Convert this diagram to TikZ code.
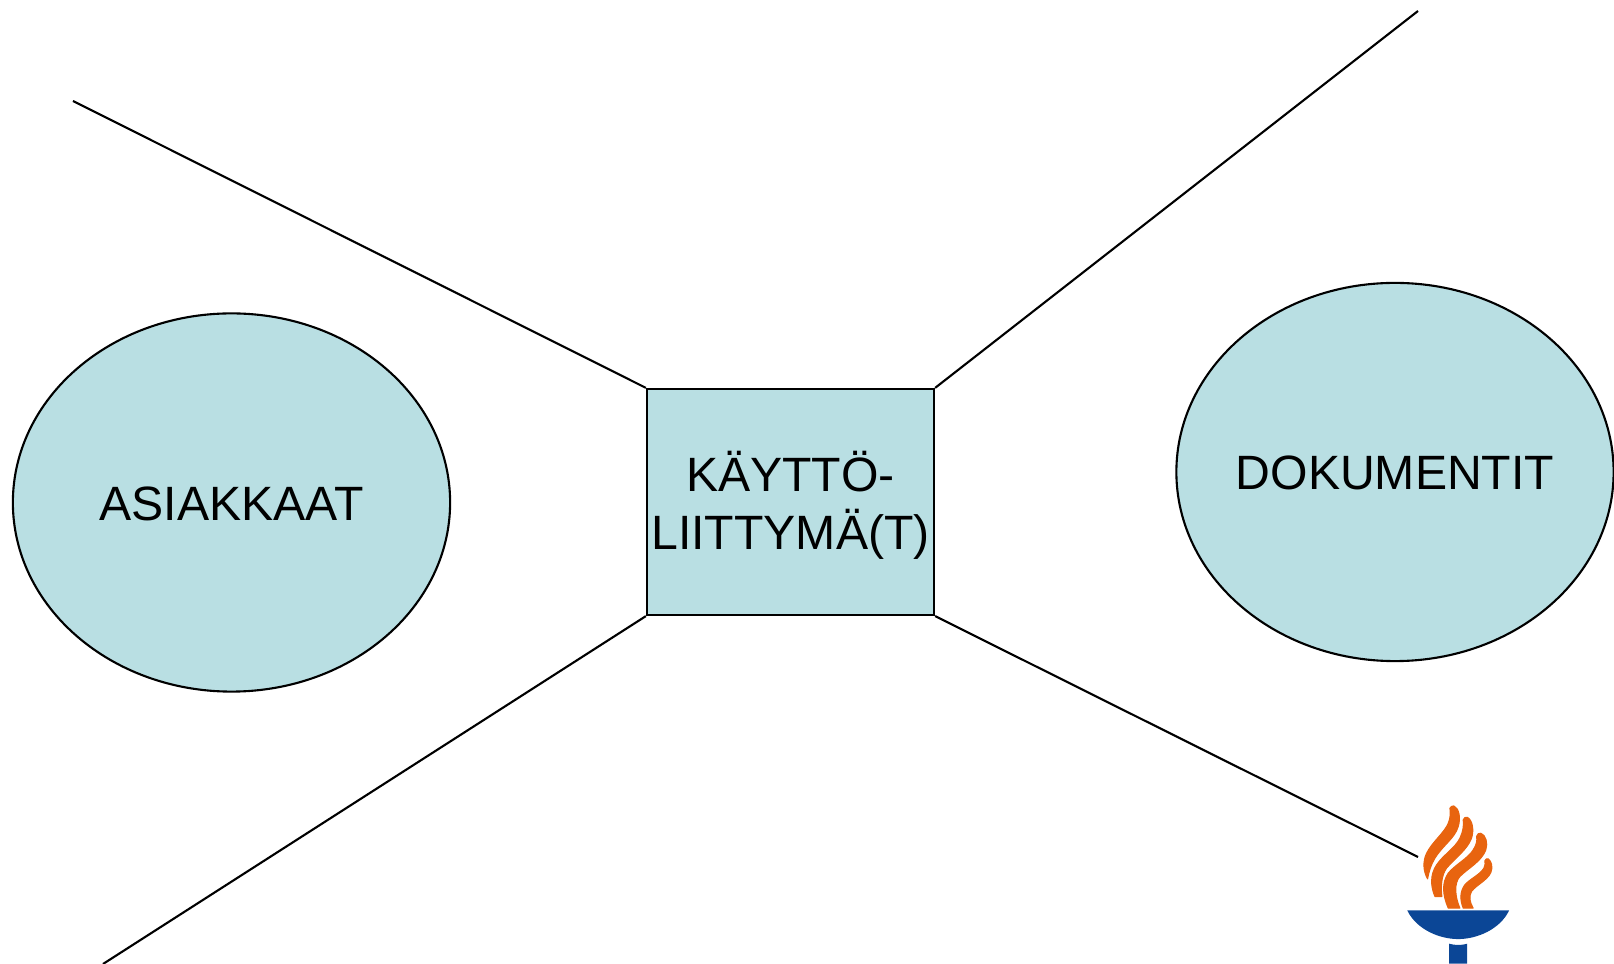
\documentclass[tikz,border=0pt]{standalone}
\usepackage{fontspec}
\setmainfont{Liberation Sans}
\usetikzlibrary{shapes.geometric}
\definecolor{paleblue}{HTML}{B9DFE3}
\definecolor{torchorange}{HTML}{E8640F}
\definecolor{torchblue}{HTML}{0B4696}

\begin{document}
\begin{tikzpicture}
[-,semithick,x=0.01cm,y=-0.01cm,%
  every node/.style={draw=black,semithick,fill=paleblue,inner sep=0pt,align=center,font=\fontsize{13.7}{16.5}\selectfont},%
  blob/.style={shape=ellipse,inner sep=-20pt,text height=10.1pt,minimum width=4.37cm,minimum height=3.78cm},%
  flame/.style={fill=torchorange,draw=torchorange,line width=0.3pt,line join=round},%
  cup/.style={fill=torchblue,draw=none}]
\useasboundingbox (0,0) rectangle (1614,964);
\node[blob] (asiakkaat) at (231.5,502.5) {ASIAKKAAT};
\node[blob] (dokumentit) at (1395,472) {DOKUMENTIT};
\node[minimum width=2.87cm,minimum height=2.26cm] (kaytto) at (790.5,502) {\rule{0pt}{13.2pt}KÄYTTÖ-\\LIITTYMÄ(T)};
\coordinate (nw) at (73,101);
\coordinate (ne) at (1418,11);
\coordinate (sw) at (103,964);
\coordinate (se) at (1418,857);
\draw (kaytto.north west) -- (nw);
\draw (kaytto.north east) -- (ne);
\draw (kaytto.south west) -- (sw);
\draw (kaytto.south east) -- (se);
% torch
\begin{scope}[shift={(1380,780)},x=0.00333cm,y=-0.00333cm]
\filldraw[flame] (222,78) .. controls (238,85) and (243,115) .. (235,140) .. controls (225,175) and (190,195) .. (165,235) .. controls (153,255) and (147,275) .. (143,297) .. controls (130,275) and (128,245) .. (140,220) .. controls (155,190) and (185,165) .. (200,140) .. controls (213,118) and (212,95) .. (210,85) .. controls (212,80) and (217,77) .. (222,78) -- cycle;
\filldraw[flame] (262,112) .. controls (278,120) and (283,150) .. (275,175) .. controls (262,210) and (225,235) .. (200,265) .. controls (185,285) and (182,320) .. (186,350) -- (165,350) .. controls (152,320) and (150,285) .. (170,255) .. controls (190,225) and (225,205) .. (240,175) .. controls (250,155) and (252,135) .. (250,120) .. controls (252,114) and (257,110) .. (262,112) -- cycle;
\filldraw[flame] (303,160) .. controls (318,165) and (325,190) .. (318,210) .. controls (305,245) and (265,265) .. (240,290) .. controls (222,310) and (225,350) .. (240,385) -- (205,385) .. controls (188,345) and (185,310) .. (205,280) .. controls (225,255) and (265,235) .. (280,210) .. controls (290,195) and (293,180) .. (290,170) .. controls (292,163) and (297,158) .. (303,160) -- cycle;
\filldraw[flame] (325,237) .. controls (335,243) and (340,262) .. (333,278) .. controls (322,302) and (290,315) .. (275,335) .. controls (266,350) and (270,368) .. (280,385) -- (250,385) .. controls (240,360) and (240,335) .. (255,315) .. controls (270,297) and (300,285) .. (312,265) .. controls (317,255) and (316,245) .. (315,243) .. controls (317,238) and (321,235) .. (325,237) -- cycle;
\fill[cup] (82,392) -- (388,392) .. controls (360,450) and (290,478) .. (235,478) .. controls (180,478) and (110,450) .. (82,392) -- cycle;
\fill[cup] (208,492) .. controls (225,497) and (245,497) .. (262,492) -- (262,552) -- (208,552) -- cycle;
\end{scope}
\end{tikzpicture}
\end{document}
